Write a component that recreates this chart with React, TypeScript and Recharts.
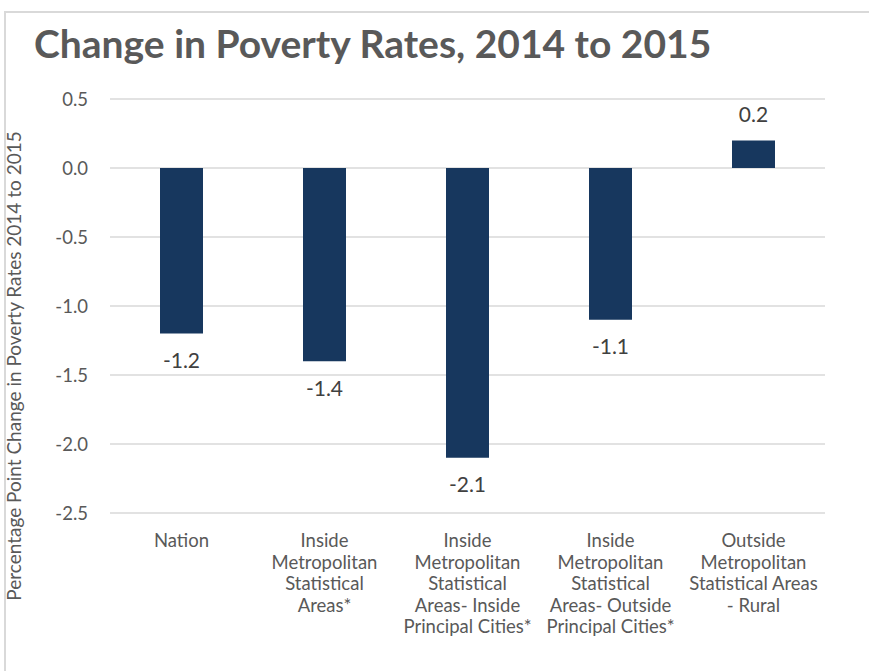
import { BarChart, Bar, XAxis, YAxis, CartesianGrid, LabelList } from 'recharts'

const categories = [
  'Nation',
  'Inside\nMetropolitan\nStatistical\nAreas*',
  'Inside\nMetropolitan\nStatistical\nAreas- Inside\nPrincipal Cities*',
  'Inside\nMetropolitan\nStatistical\nAreas- Outside\nPrincipal Cities*',
  'Outside\nMetropolitan\nStatistical Areas\n- Rural',
]
const changes = [-1.2, -1.4, -2.1, -1.1, 0.2]
const yTicks = [0.5, 0, -0.5, -1, -1.5, -2, -2.5]

const data = categories.map((name, i) => ({ name, value: changes[i] }))

const FONT = 'Lato, "Open Sans", sans-serif'

const CategoryTick = (props: any) => {
  const { x, y, payload } = props
  const lines = String(payload.value).split('\n')
  return (
    <text x={x} y={y + 26} textAnchor="middle" fill="#595959" fontSize={18.5} fontFamily={FONT}>
      {lines.map((l: string, i: number) => (
        <tspan key={i} x={x} dy={i === 0 ? 0 : 21.5}>
          {l}
        </tspan>
      ))}
    </text>
  )
}

const ValueLabel = (props: any) => {
  const { x, y, width, height, value } = props
  const cx = x + width / 2
  const top = Math.min(y, y + height)
  const bottom = Math.max(y, y + height)
  const neg = value < 0
  return (
    <text
      x={cx}
      y={neg ? bottom + 34.5 : top - 18.5}
      textAnchor="middle"
      fill="#404040"
      fontSize={21}
      fontFamily={FONT}
    >
      {value.toFixed(1)}
    </text>
  )
}

export default function App() {
  return (
    <div style={{ position: 'absolute', left: 0, top: 0, width: 869, height: 671, background: '#fff', overflow: 'hidden' }}>
      <div
        style={{
          position: 'absolute',
          left: 4,
          top: 11,
          width: 880,
          height: 700,
          borderLeft: '2px solid #d9d9d9',
          borderTop: '2px solid #d9d9d9',
        }}
      />
      <svg style={{ position: 'absolute', left: 0, top: 0 }} width={869} height={671}>
        <text x={34} y={58} fill="#595959" fontSize={39} fontWeight={700} fontFamily={FONT}>
          Change in Poverty Rates, 2014 to 2015
        </text>
        <text
          transform="translate(21,366) rotate(-90)"
          textAnchor="middle"
          fill="#595959"
          fontSize={19}
          fontFamily={FONT}
        >
          Percentage Point Change in Poverty Rates 2014 to 2015
        </text>
      </svg>
      <div style={{ position: 'absolute', left: 0, top: 0 }}>
        <BarChart
          width={869}
          height={671}
          data={data}
          margin={{ top: 99, right: 44, bottom: 28, left: 30 }}
          barCategoryGap={50}
        >
          <CartesianGrid vertical={false} stroke="#d9d9d9" strokeWidth={1.5} />
          <XAxis
            dataKey="name"
            axisLine={false}
            tickLine={false}
            height={130}
            tick={<CategoryTick />}
            interval={0}
          />
          <YAxis
            width={80}
            domain={[-2.5, 0.5]}
            ticks={yTicks}
            axisLine={false}
            tickLine={false}
            tickFormatter={(v: number) => v.toFixed(1)}
            tick={{ fill: '#595959', fontSize: 18.5, fontFamily: FONT }}
            tickMargin={16}
          />
          <Bar dataKey="value" fill="#17375e" isAnimationActive={false}>
            <LabelList dataKey="value" content={<ValueLabel />} />
          </Bar>
        </BarChart>
      </div>
    </div>
  )
}
